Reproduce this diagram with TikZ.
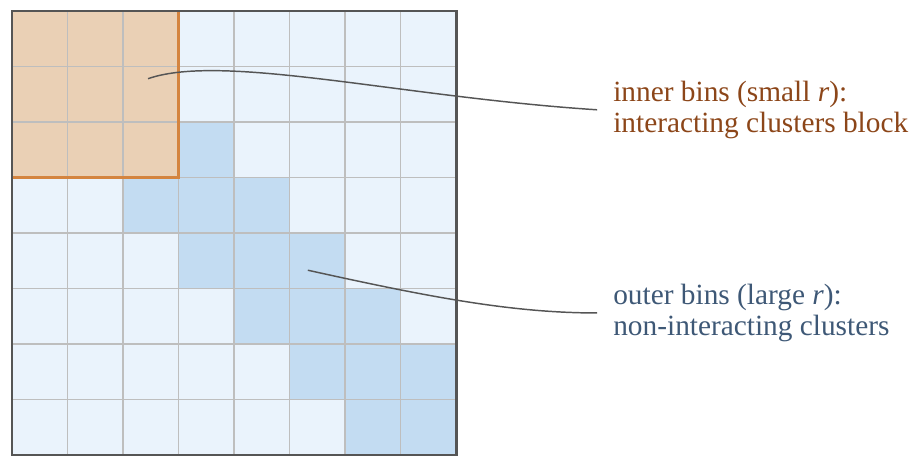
\documentclass[tikz,border=0pt]{standalone}
\usepackage{fontspec}
\setmainfont{Liberation Serif}
\usetikzlibrary{calc}

\definecolor{lightbin}{RGB}{234,243,252}
\definecolor{outerbin}{RGB}{195,220,242}
\definecolor{innerbin}{RGB}{234,208,181}
\definecolor{innerline}{RGB}{212,132,63}
\definecolor{gridgray}{RGB}{190,190,190}
\definecolor{framegray}{RGB}{85,85,85}
\definecolor{innertext}{RGB}{140,70,25}
\definecolor{outertext}{RGB}{62,88,118}

\begin{document}
\begin{tikzpicture}[x=41.625pt,y=41.625pt,
    binlabel/.style={anchor=west, align=left, inner xsep=12pt,
        font=\fontsize{22}{23.5}\selectfont},
    leader/.style={draw=framegray, line width=1.1pt}]
    \useasboundingbox (-0.216,0) rectangle (16.43,8.198);

    % celle
    \fill[lightbin] (0,0) rectangle (8,8);
    \fill[innerbin] (0,5) rectangle (3,8);
    \foreach \c/\r in {3/2, 2/3, 3/3, 4/3, 3/4, 4/4, 5/4, 4/5, 5/5, 6/5,
                       5/6, 6/6, 7/6, 6/7, 7/7}
        \fill[outerbin] (\c,7-\r) rectangle ++(1,1);

    % griglia
    \draw[gridgray, line width=1.1pt, step=1] (0,0) grid (8,8);

    % blocco interno
    \draw[innerline, line width=1.9pt] (0,5) -- (3,5) -- (3,8);

    % cornice
    \draw[framegray, line width=2.2pt] (0,0) rectangle (8,8);

    % etichette
    \node[binlabel, text=innertext] (inner) at (10.54,6.22)
        {inner bins (small \textit{r}):\\interacting clusters block};
    \node[binlabel, text=outertext] (outer) at (10.54,2.56)
        {outer bins (large \textit{r}):\\non-interacting clusters};

    % richiami
    \coordinate (innerpt) at (2.45,6.78);
    \coordinate (outerpt) at (5.33,3.33);
    \draw[leader] (innerpt) .. controls (3.8,7.25) and (7,6.45) .. (inner.west);
    \draw[leader] (outerpt) .. controls (7.5,2.85) and (9,2.56) .. (outer.west);
\end{tikzpicture}
\end{document}
